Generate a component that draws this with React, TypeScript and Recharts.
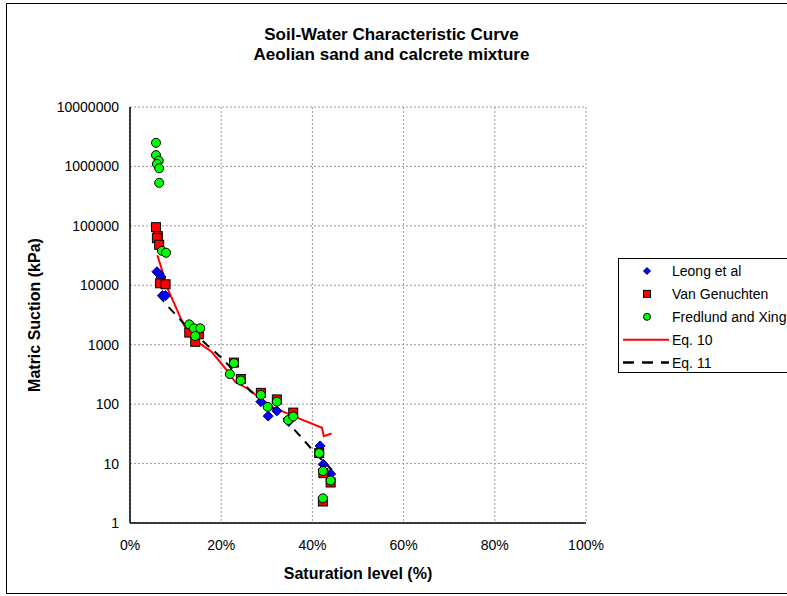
import { ScatterChart, Scatter, XAxis, YAxis, CartesianGrid } from 'recharts';

const xTicks = [0, 20, 40, 60, 80, 100];
const yTicks = [1, 10, 100, 1000, 10000, 100000, 1000000, 10000000];

// Leong et al (measured)
const leongSat = [5.9, 6.4, 6.8, 7.1, 7.8, 28.7, 30.3, 32.2, 34.8, 41.7, 42.4, 44.0];
const leongSuction = [16900, 15500, 13800, 6700, 6700, 110, 63, 77, 51, 19.8, 9.7, 6.7];

// Van Genuchten
const vgSat = [5.7, 6.1, 5.9, 6.4, 6.6, 7.8, 13.0, 14.3, 15.1, 22.8, 24.3, 28.7, 32.2, 35.8, 41.5, 42.4, 44.0, 42.3];
const vgSuction = [95000, 67000, 62000, 48000, 10800, 10400, 1600, 1120, 1500, 500, 265, 155, 120, 72, 15, 6.9, 4.8, 2.3];

// Fredlund and Xing
const fxSat = [5.7, 5.7, 6.3, 5.9, 6.4, 6.4, 7.0, 7.9, 13.0, 14.0, 15.4, 14.3, 22.8, 21.9, 24.3, 28.7, 30.2, 32.2, 34.7, 35.8, 41.5, 42.3, 44.0, 42.3];
const fxSuction = [2500000, 1550000, 1250000, 1100000, 930000, 530000, 38000, 35300, 2200, 1890, 1890, 1400, 490, 320, 250, 143, 90, 110, 54, 62, 15, 7.5, 5.2, 2.6];

// Eq. 10 fitted curve
const eq10Sat = [6.0, 8.4, 11.3, 12.4, 13.9, 15.7, 17.9, 21.2, 23.0, 26.3, 28.9, 31.4, 36.9, 42.1, 42.5, 44.2];
const eq10Suction = [32000, 8300, 2600, 1770, 1200, 1000, 760, 375, 240, 173, 117, 88, 58, 40, 29, 32];

// Eq. 11 fitted curve
const eq11Sat = [6.2, 8.4, 12.1, 15.7, 19.8, 21.9, 26.3, 32.2, 34.7, 37.7, 40.6, 44.3];
const eq11Suction = [6900, 4350, 2150, 1200, 630, 427, 168, 75, 48, 27, 15, 7.8];

const toPoints = (sat: number[], suction: number[]) => sat.map((x, i) => ({ x, y: suction[i] }));

const font = '"Liberation Sans", Arial, sans-serif';

const Diamond = (props: any) => {
  const { cx, cy } = props;
  const r = 5;
  return (
    <polygon
      points={`${cx},${cy - r} ${cx + r},${cy} ${cx},${cy + r} ${cx - r},${cy}`}
      fill="#0000ff"
      stroke="#000080"
      strokeWidth={1}
    />
  );
};

const Square = (props: any) => {
  const { cx, cy } = props;
  return <rect x={cx - 4.5} y={cy - 4.5} width={9} height={9} fill="#ff0000" stroke="#000" strokeWidth={1} />;
};

const Dot = (props: any) => {
  const { cx, cy } = props;
  return <circle cx={cx} cy={cy} r={4.5} fill="#00ff00" stroke="#000" strokeWidth={1} />;
};

const NoShape = () => <g />;

const legendRows = [
  { label: 'Leong et al', kind: 'diamond' },
  { label: 'Van Genuchten', kind: 'square' },
  { label: 'Fredlund and Xing', kind: 'circle' },
  { label: 'Eq. 10', kind: 'red' },
  { label: 'Eq. 11', kind: 'dash' },
];

const LegendIcon = ({ kind, y }: { kind: string; y: number }) => {
  const cx = 28;
  if (kind === 'diamond')
    return <polygon points={`${cx},${y - 3.5} ${cx + 3.5},${y} ${cx},${y + 3.5} ${cx - 3.5},${y}`} fill="#0000ff" stroke="#000080" />;
  if (kind === 'square')
    return <rect x={cx - 3.5} y={y - 3.5} width={7} height={7} fill="#ff0000" stroke="#000" />;
  if (kind === 'circle') return <circle cx={cx} cy={y} r={3.5} fill="#00ff00" stroke="#000" />;
  if (kind === 'red') return <line x1={4} x2={50} y1={y} y2={y} stroke="#ff0000" strokeWidth={2} />;
  return <line x1={4} x2={50} y1={y} y2={y} stroke="#000" strokeWidth={2.5} strokeDasharray="11 8" />;
};

export default function App() {
  return (
    <div
      style={{
        position: 'absolute',
        left: 0,
        top: 0,
        width: 787,
        height: 596,
        overflow: 'hidden',
        background: '#fff',
        fontFamily: font,
      }}
    >
      <ScatterChart width={787} height={596} margin={{ top: 107, right: 201, left: 50, bottom: 43 }}>
        <CartesianGrid stroke="#9a9a9a" strokeDasharray="2 2" />
        <XAxis
          type="number"
          dataKey="x"
          domain={[0, 100]}
          ticks={xTicks}
          interval={0}
          tickFormatter={(v: number) => `${v}%`}
          tick={{ fill: '#000', fontSize: 14, fontFamily: font }}
          axisLine={{ stroke: '#000', strokeWidth: 1.5 }}
          tickLine={false}
          tickMargin={11}
          height={30}
        />
        <YAxis
          type="number"
          dataKey="y"
          scale="log"
          domain={[1, 10000000]}
          ticks={yTicks}
          interval={0}
          allowDataOverflow
          tickFormatter={(v: number) => String(v)}
          tick={{ fill: '#000', fontSize: 14, fontFamily: font }}
          axisLine={{ stroke: '#000', strokeWidth: 1.5 }}
          tickLine={false}
          tickMargin={5}
          width={80}
        />
        <Scatter
          name="Eq. 10"
          data={toPoints(eq10Sat, eq10Suction)}
          fill="#ff0000"
          line={{ stroke: '#ff0000', strokeWidth: 2 }}
          shape={NoShape}
          isAnimationActive={false}
        />
        <Scatter
          name="Eq. 11"
          data={toPoints(eq11Sat, eq11Suction)}
          fill="#000"
          line={{ stroke: '#000', strokeWidth: 2, strokeDasharray: '9 7' }}
          shape={NoShape}
          isAnimationActive={false}
        />
        <Scatter name="Leong et al" data={toPoints(leongSat, leongSuction)} fill="#0000ff" shape={Diamond} isAnimationActive={false} />
        <Scatter name="Van Genuchten" data={toPoints(vgSat, vgSuction)} fill="#ff0000" shape={Square} isAnimationActive={false} />
        <Scatter name="Fredlund and Xing" data={toPoints(fxSat, fxSuction)} fill="#00ff00" shape={Dot} isAnimationActive={false} />
      </ScatterChart>

      {/* chart frame */}
      <div style={{ position: 'absolute', left: 6, top: 3, width: 800, height: 589, border: '1px solid #000' }} />

      {/* title */}
      <div style={{ position: 'absolute', left: 0, top: 25, width: 783, textAlign: 'center', fontWeight: 'bold', fontSize: 17, lineHeight: '20px' }}>
        Soil-Water Characteristic Curve
      </div>
      <div style={{ position: 'absolute', left: 0, top: 45, width: 783, textAlign: 'center', fontWeight: 'bold', fontSize: 17, lineHeight: '20px' }}>
        Aeolian sand and calcrete mixture
      </div>

      {/* axis titles */}
      <div
        style={{
          position: 'absolute',
          left: 35 - 110,
          top: 315 - 10,
          width: 220,
          height: 20,
          lineHeight: '20px',
          textAlign: 'center',
          fontWeight: 'bold',
          fontSize: 16,
          transform: 'rotate(-90deg)',
        }}
      >
        Matric Suction (kPa)
      </div>
      <div style={{ position: 'absolute', left: 258, top: 564, width: 200, lineHeight: '20px', textAlign: 'center', fontWeight: 'bold', fontSize: 16 }}>
        Saturation level (%)
      </div>

      {/* legend */}
      <div style={{ position: 'absolute', left: 618, top: 258, width: 200, height: 113, border: '1px solid #000', background: '#fff' }}>
        <svg width={200} height={113} style={{ position: 'absolute', left: 0, top: 0 }}>
          {legendRows.map((r, i) => {
            const y = 12 + i * 22.9;
            return (
              <g key={r.label}>
                <LegendIcon kind={r.kind} y={y} />
                <text x={53} y={y} dominantBaseline="central" fontSize={14} fontFamily={font} fill="#000">
                  {r.label}
                </text>
              </g>
            );
          })}
        </svg>
      </div>
    </div>
  );
}
